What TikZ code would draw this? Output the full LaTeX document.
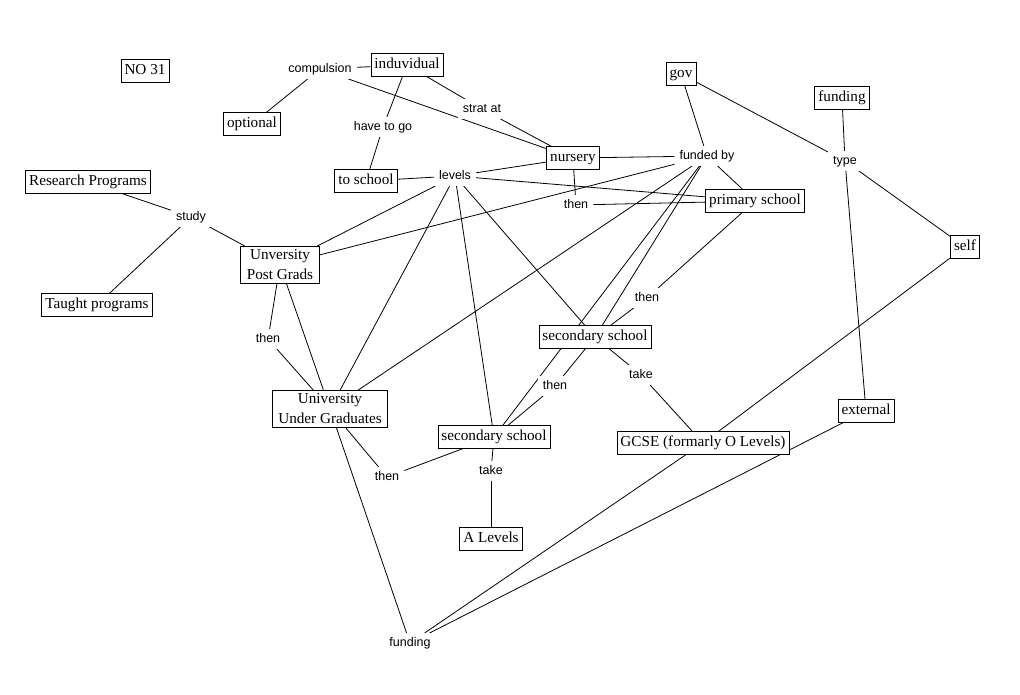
\documentclass[tikz,border=0pt]{standalone}
\usepackage{fontspec}
\setmainfont{Liberation Serif}
\setsansfont{Liberation Sans}
\usetikzlibrary{backgrounds}
\begin{document}
\begin{tikzpicture}[x=1pt,y=-1pt,
  concept/.style={draw, fill=white, line width=0.8pt, font=\fontsize{15.2}{20}\selectfont,
    inner xsep=3.5pt, inner ysep=3.5pt, text height=11.5pt, text depth=4pt},
  concepttwo/.style={draw, fill=white, line width=0.8pt, font=\fontsize{15.2}{20}\selectfont,
    inner xsep=6pt, inner ysep=3.5pt, align=center},
  phrase/.style={fill=white, font=\sffamily\fontsize{12.5}{15}\selectfont,
    inner xsep=5pt, inner ysep=4pt, text height=9pt, text depth=2.5pt},
  link/.style={line width=0.8pt}]
\path[use as bounding box] (0,0) rectangle (1020,695);

% concepts
\node[concept] (no31) at (145,71) {NO 31};
\node[concept] (indiv) at (407,65) {induvidual};
\node[concept] (optional) at (252,124) {optional};
\node[concept] (toschool) at (366,181) {to school};
\node[concept] (nursery) at (573,158) {nursery};
\node[concept] (gov) at (681,74) {gov};
\node[concept] (fundtop) at (842,98) {funding};
\node[concept] (research) at (88,182) {Research Programs};
\node[concept] (primary) at (755,201) {primary school};
\node[concepttwo] (upg) at (280,265) {Unversity\\Post Grads};
\node[concept] (self) at (965,247) {self};
\node[concept] (taught) at (97,305) {Taught programs};
\node[concept] (sec1) at (595,337) {secondary school};
\node[concepttwo] (uug) at (330,409) {University\\Under Graduates};
\node[concept] (external) at (866,411) {external};
\node[concept] (sec2) at (494,437) {secondary school};
\node[concept] (gcse) at (703,443) {GCSE (formarly O Levels)};
\node[concept] (alevels) at (491,539) {A Levels};

% linking phrases
\node[phrase] (compulsion) at (320,69) {compulsion};
\node[phrase] (havetogo) at (383,127) {have to go};
\node[phrase] (stratat) at (482,109) {strat at};
\node[phrase] (levels) at (455,176) {levels};
\node[phrase] (fundedby) at (707,156) {funded by};
\node[phrase] (type) at (845,161) {type};
\node[phrase] (study) at (191,217) {study};
\node[phrase] (thenA) at (576,205) {then};
\node[phrase] (thenB) at (268,339) {then};
\node[phrase] (thenC) at (647,298) {then};
\node[phrase] (thenD) at (555,386) {then};
\node[phrase] (takeA) at (641,375) {take};
\node[phrase] (thenE) at (387,477) {then};
\node[phrase] (takeB) at (491,471) {take};
\node[phrase] (fundbot) at (410,643) {funding};

\begin{scope}[on background layer]
\fill[white] (0,0) rectangle (1020,695);
\draw[link] (compulsion) -- (indiv);
\draw[link] (compulsion) -- (optional);
\draw[link] (compulsion) -- (nursery);
\draw[link] (indiv) -- (havetogo);
\draw[link] (havetogo) -- (toschool);
\draw[link] (indiv) -- (stratat);
\draw[link] (stratat) -- (nursery);
\draw[link] (toschool) -- (levels);
\draw[link] (levels) -- (nursery);
\draw[link] (levels) -- (primary);
\draw[link] (levels) -- (upg);
\draw[link] (levels) -- (uug);
\draw[link] (levels) -- (sec1);
\draw[link] (levels) -- (sec2);
\draw[link] (nursery) -- (fundedby);
\draw[link] (nursery) -- (thenA);
\draw[link] (thenA) -- (primary);
\draw[link] (gov) -- (fundedby);
\draw[link] (gov) -- (type);
\draw[link] (fundtop) -- (type);
\draw[link] (type) -- (self);
\draw[link] (type) -- (external);
\draw[link] (fundedby) -- (primary);
\draw[link] (fundedby) -- (upg);
\draw[link] (fundedby) -- (uug);
\draw[link] (fundedby) -- (sec1);
\draw[link] (fundedby) -- (sec2);
\draw[link] (primary) -- (thenC);
\draw[link] (thenC) -- (sec1);
\draw[link] (sec1) -- (thenD);
\draw[link] (thenD) -- (sec2);
\draw[link] (sec1) -- (takeA);
\draw[link] (takeA) -- (gcse);
\draw[link] (sec2) -- (takeB);
\draw[link] (takeB) -- (alevels);
\draw[link] (upg) -- (thenB);
\draw[link] (thenB) -- (uug);
\draw[link] (upg) -- (uug);
\draw[link] (study) -- (research);
\draw[link] (study) -- (taught);
\draw[link] (study) -- (upg);
\draw[link] (uug) -- (thenE);
\draw[link] (thenE) -- (sec2);
\draw[link] (uug) -- (fundbot);
\draw[link] (gcse) -- (fundbot);
\draw[link] (external) -- (fundbot);
\draw[link] (self) -- (gcse);
\end{scope}
\end{tikzpicture}
\end{document}
